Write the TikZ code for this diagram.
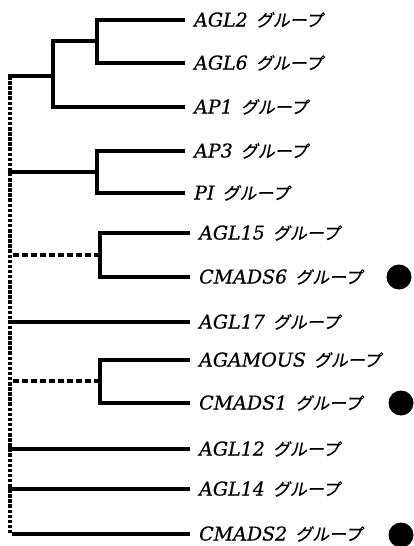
\documentclass[tikz,border=0pt]{standalone}
\usepackage{fontspec}
\newfontfamily\lat[FakeBold=0.6]{DejaVu Serif}
\newfontfamily\jp[FakeSlant=0.2,FakeBold=0.8]{Noto Sans CJK JP}
\newcommand{\grp}[1]{{\lat\itshape #1}\hspace{8pt}{\jp\fontsize{17}{20}\selectfont グループ}}
\begin{document}
\begin{tikzpicture}[x=1pt,y=-1pt,
  branch/.style={line width=4pt},
  vdots/.style={line width=3.6pt,dash pattern=on 3.5pt off 1.6pt},
  hdots/.style={line width=3.6pt,dash pattern=on 6pt off 3pt},
  leaf/.style={anchor=west,inner xsep=9pt,inner ysep=0pt,
    text height=14pt,text depth=1pt,font=\fontsize{19}{22}\selectfont},
  marker/.style={circle,fill=black,inner sep=0pt,minimum size=25pt}]
\useasboundingbox (0,0) rectangle (413,546);

% leaves
\node[leaf] (l1)  at (185,20)  {\grp{AGL2}};
\node[leaf] (l2)  at (185,63)  {\grp{AGL6}};
\node[leaf] (l3)  at (185,107) {\grp{AP1}};
\node[leaf] (l4)  at (185,151) {\grp{AP3}};
\node[leaf] (l5)  at (185,193) {\grp{PI}};
\node[leaf] (l6)  at (190,233) {\grp{AGL15}};
\node[leaf] (l7)  at (190,277) {\grp{CMADS6}};
\node[leaf] (l8)  at (190,322) {\grp{AGL17}};
\node[leaf] (l9)  at (190,360) {\grp{AGAMOUS}};
\node[leaf] (l10) at (190,403) {\grp{CMADS1}};
\node[leaf] (l11) at (190,449) {\grp{AGL12}};
\node[leaf] (l12) at (190,489) {\grp{AGL14}};
\node[leaf] (l13) at (190,534) {\grp{CMADS2}};

% internal branch points
\coordinate (n1) at (97,41);
\coordinate (n2) at (53,76);
\coordinate (n3) at (97,172);
\coordinate (n4) at (100,255);
\coordinate (n5) at (100,381);

% points on the dotted backbone
\coordinate (r1)  at (10,76);
\coordinate (r2)  at (10,172);
\coordinate (r3)  at (10,255);
\coordinate (r4)  at (10,322);
\coordinate (r5)  at (10,381);
\coordinate (r6)  at (10,449);
\coordinate (r7)  at (10,489);
\coordinate (r8)  at (10,534);

% backbone
\draw[vdots] (r1) -- (r8);

% clades
\draw[branch] (l1.west) -| (n1) |- (l2.west);
\draw[branch] (n1) -| (n2) |- (l3.west);
\draw[branch] (n2) -- ([xshift=-2pt]r1);
\draw[branch] (l4.west) -| (n3) |- (l5.west);
\draw[branch] (n3) -- ([xshift=-2pt]r2);
\draw[branch] (l6.west) -| (n4) |- (l7.west);
\draw[hdots] (n4) -- ([xshift=2pt]r3);
\draw[branch] ([xshift=-2pt]r4) -- (l8.west);
\draw[branch] (l9.west) -| (n5) |- (l10.west);
\draw[hdots] (n5) -- ([xshift=2pt]r5);
\draw[branch] ([xshift=-2pt]r6) -- (l11.west);
\draw[branch] ([xshift=-2pt]r7) -- (l12.west);
\draw[branch] ([xshift=2pt]r8) -- (l13.west);

% markers
\node[marker] (m1) at (399,277) {};
\node[marker] (m2) at (401,403) {};
\node[marker] (m3) at (401,535) {};
\end{tikzpicture}
\end{document}
